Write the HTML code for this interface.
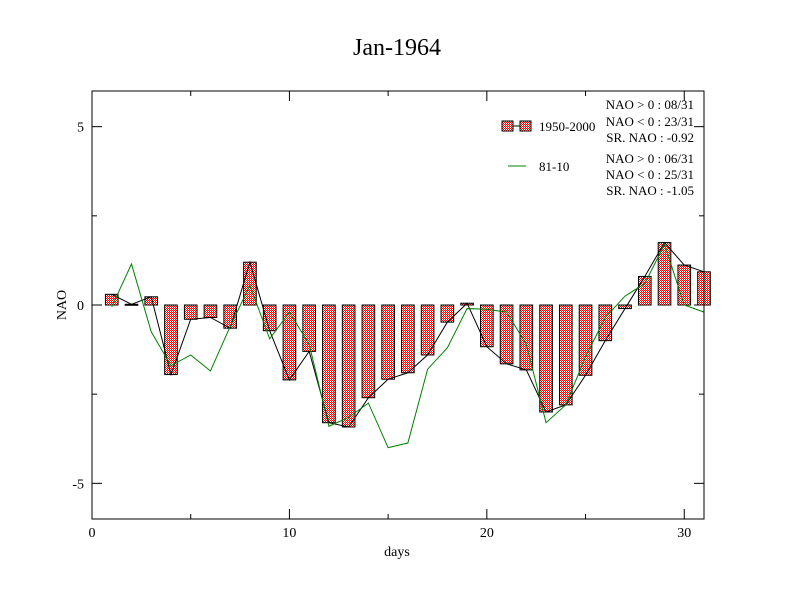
<!DOCTYPE html>
<html><head><meta charset="utf-8"><style>body{margin:0;background:#fff}svg{display:block}text{font-family:"Liberation Serif",serif}</style></head>
<body>
<svg id="c" width="792" height="612">
<defs><pattern id="chk" width="2" height="2" patternUnits="userSpaceOnUse"><rect width="2" height="2" fill="#fff"/><rect width="1" height="1" fill="#f00"/><rect x="1" y="1" width="1" height="1" fill="#f00"/></pattern></defs>
<text x="397" y="55" font-size="24" text-anchor="middle">Jan-1964</text>
<g id="plot"></g>
<text x="397" y="556" font-size="14" text-anchor="middle">days</text>
<text transform="translate(66,305) rotate(-90)" font-size="14" text-anchor="middle">NAO</text>
<g font-size="13">
<rect x="502" y="121" width="11" height="10" fill="url(#chk)" stroke="#000"/>
<line x1="513" y1="126" x2="520" y2="126" stroke="#000"/>
<rect x="520" y="121" width="11" height="10" fill="url(#chk)" stroke="#000"/>
<text x="539" y="131">1950-2000</text>
<line x1="508" y1="166" x2="526" y2="166" stroke="#008000"/>
<text x="539" y="171">81-10</text>
<g text-anchor="end">
<text x="694" y="109">NAO &gt; 0 : 08/31</text><text x="694" y="126">NAO &lt; 0 : 23/31</text><text x="694" y="142">SR. NAO : -0.92</text>
<text x="694" y="163">NAO &gt; 0 : 06/31</text><text x="694" y="179">NAO &lt; 0 : 25/31</text><text x="694" y="195">SR. NAO : -1.05</text></g>
</g>
</svg>
<script>
const days=[1,2,3,4,5,6,7,8,9,10,11,12,13,14,15,16,17,18,19,20,21,22,23,24,25,26,27,28,29,30,31];
const nao5000=[0.3,0.02,0.23,-1.95,-0.4,-0.35,-0.65,1.2,-0.72,-2.1,-1.3,-3.3,-3.42,-2.6,-2.08,-1.9,-1.4,-0.48,0.05,-1.17,-1.65,-1.82,-3.0,-2.8,-1.97,-1.0,-0.1,0.8,1.75,1.12,0.93];
const nao8110=[-0.05,1.15,-0.75,-1.7,-1.4,-1.85,-0.6,0.55,-0.95,-0.2,-1.1,-3.4,-3.15,-2.75,-4.0,-3.87,-1.8,-1.2,-0.1,-0.12,-0.2,-1.1,-3.3,-2.8,-1.45,-0.35,0.25,0.6,1.7,0,-0.2];
const xTicks=[0,10,20,30];
const yTicks=[-5,0,5];
const X0=92,X1=704,Y0=91,Y1=519;
const sx=v=>X0+(v-0)/31*(X1-X0);
const sy=v=>Y1-(v+6)/12*(Y1-Y0);
const NS='http://www.w3.org/2000/svg';
const g=document.getElementById('plot');
function mk(t,a){const e=document.createElementNS(NS,t);for(const k in a)e.setAttribute(k,a[k]);g.appendChild(e);return e;}
days.forEach((d,i)=>{const v=nao5000[i];const y=Math.min(sy(v),sy(0));const h=Math.max(Math.abs(sy(v)-sy(0)),1);
const r=mk('rect',{x:sx(d-0.32),y:y,width:sx(0.64)-sx(0),height:h,fill:'url(#chk)',stroke:'#000','stroke-width':1});

});
const l1=mk('polyline',{points:days.map((d,i)=>sx(d)+','+sy(nao5000[i])).join(' '),fill:'none',stroke:'#000','stroke-width':1});


const l2=mk('polyline',{points:days.map((d,i)=>sx(d)+','+sy(nao8110[i])).join(' '),fill:'none',stroke:'#008000','stroke-width':1});


const fr=mk('rect',{x:X0,y:Y0,width:X1-X0,height:Y1-Y0,fill:'none',stroke:'#000','stroke-width':1});


[0,5,10,15,20,25,30].forEach(t=>{const L=t%10===0?10:5;const x=sx(t);
mk('line',{x1:x,y1:Y1,x2:x,y2:Y1-L,stroke:'#000'});mk('line',{x1:x,y1:Y0,x2:x,y2:Y0+L,stroke:'#000'});});
xTicks.forEach(t=>{const e=mk('text',{x:sx(t),y:Y1+18,'font-size':14,'text-anchor':'middle'});e.textContent=t;

});
[-5,-2.5,0,2.5,5].forEach(t=>{const L=t%5===0?10:5;const y=sy(t);
mk('line',{x1:X0,y1:y,x2:X0+L,y2:y,stroke:'#000'});mk('line',{x1:X1,y1:y,x2:X1-L,y2:y,stroke:'#000'});});
yTicks.forEach(t=>{const e=mk('text',{x:X0-8,y:sy(t)+5,'font-size':14,'text-anchor':'end'});e.textContent=t;

});
</script>
</body></html>
